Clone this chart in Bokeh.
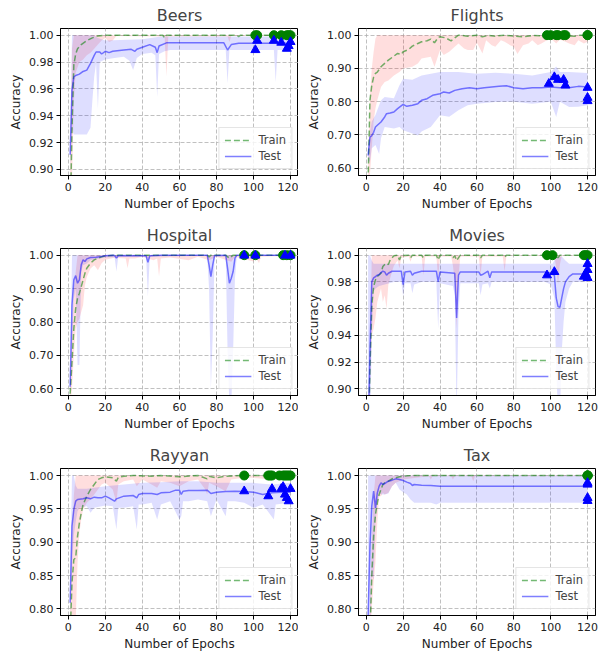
from bokeh.plotting import figure
from bokeh.layouts import gridplot
from bokeh.models import Range1d, FixedTicker, PrintfTickFormatter, Legend, LegendItem
from bokeh.embed import file_html
from bokeh.resources import INLINE

FONT = "DejaVu Sans"
X_TICKS = [0, 20, 40, 60, 80, 100, 120]
TICKS_FINE = [0.90, 0.92, 0.94, 0.96, 0.98, 1.00]
TICKS_WIDE = [0.60, 0.70, 0.80, 0.90, 1.00]
TICKS_MID = [0.80, 0.85, 0.90, 0.95, 1.00]

# ---------------- Beers ----------------
BEERS_TRAIN = [(1, 0.86), (2, 0.93), (3, 0.978), (4, 0.986), (5, 0.99), (7, 0.993), (10, 0.996), (13, 0.998),
               (16, 0.9995), (20, 1.0), (51, 1.0), (52, 0.998), (53, 1.0), (91, 1.0), (92, 0.999), (93, 1.0), (120, 1.0)]
BEERS_TRAIN_LO = [(1, 0.83), (2, 0.89), (3, 0.95), (4, 0.972), (6, 0.98), (8, 0.982), (10, 0.985), (12, 0.987),
                  (14, 0.99), (16, 0.993), (18, 0.996), (20, 0.998), (22, 0.995), (24, 0.996), (26, 0.9995),
                  (52, 0.999), (53, 0.969), (54, 0.999), (86, 0.999), (87, 0.995), (88, 0.9995), (120, 0.9995)]
BEERS_TRAIN_HI = [(1, 0.90), (2, 0.99), (3, 1.0), (120, 1.0)]
BEERS_TEST = [(1, 0.911), (2, 0.959), (3, 0.969), (4, 0.970), (6, 0.971), (8, 0.973), (10, 0.974), (12, 0.979),
              (14, 0.985), (15, 0.9875), (17, 0.9875), (18, 0.986), (20, 0.988), (22, 0.987), (24, 0.988),
              (30, 0.989), (34, 0.9895), (36, 0.988), (37, 0.9895), (40, 0.991), (44, 0.993), (47, 0.991),
              (48, 0.987), (49, 0.992), (53, 0.9943), (84, 0.9943), (86, 0.989), (88, 0.993), (92, 0.994),
              (120, 0.994)]
BEERS_TEST_LO = [(1, 0.90), (2, 0.93), (3, 0.926), (10, 0.926), (12, 0.931), (13, 0.951), (14, 0.969), (15, 0.979),
                 (16, 0.945), (17, 0.98), (20, 0.982), (25, 0.983), (30, 0.984), (33, 0.981), (35, 0.974),
                 (37, 0.983), (40, 0.986), (45, 0.987), (47, 0.985), (48, 0.954), (49, 0.986), (52, 0.988),
                 (55, 0.989), (85, 0.989), (86, 0.964), (87, 0.989), (111, 0.989), (112, 0.965), (113, 0.989),
                 (120, 0.989)]
BEERS_TEST_HI = [(1, 0.92), (2, 1.0), (14, 1.0), (16, 0.998), (20, 0.996), (40, 0.997), (50, 0.999), (120, 0.999)]
BEERS_TRAIN_END = [101, 102, 111, 115, 118, 119, 120]
BEERS_TEST_END = [(101, 0.989), (102, 0.996), (111, 0.996), (115, 0.9945), (118, 0.990), (119, 0.992), (120, 0.995)]

# ---------------- Flights ----------------
FLIGHTS_TRAIN = [(1, 0.56), (2, 0.804), (3, 0.849), (4, 0.874), (5, 0.885), (6, 0.889), (8, 0.905), (10, 0.915),
                 (12, 0.925), (15, 0.937), (17, 0.945), (19, 0.942), (20, 0.95), (23, 0.957), (25, 0.967),
                 (28, 0.975), (30, 0.98), (33, 0.983), (35, 0.988), (37, 0.977), (39, 0.993), (40, 0.995),
                 (43, 0.992), (46, 0.983), (48, 0.992), (50, 1.0), (55, 0.997), (60, 1.0), (63, 0.995), (66, 0.999),
                 (70, 0.997), (75, 1.0), (80, 0.997), (85, 0.995), (90, 0.999), (95, 0.998), (100, 1.0),
                 (113, 0.997), (116, 1.0), (120, 1.0)]
FLIGHTS_TRAIN_LO = [(1, 0.52), (2, 0.58), (3, 0.66), (4, 0.74), (5, 0.78), (6, 0.804), (8, 0.844), (10, 0.859),
                    (12, 0.864), (15, 0.879), (18, 0.889), (20, 0.90), (25, 0.905), (28, 0.915), (30, 0.93),
                    (35, 0.935), (37, 0.905), (40, 0.955), (42, 0.94), (45, 0.95), (48, 0.965), (50, 0.975),
                    (53, 0.96), (55, 0.955), (58, 0.955), (60, 0.977), (63, 0.945), (65, 0.985), (68, 0.97),
                    (70, 0.965), (73, 0.985), (75, 0.98), (78, 0.97), (80, 0.965), (82, 0.943), (85, 0.97),
                    (88, 0.975), (90, 0.985), (93, 0.97), (95, 0.975), (98, 0.985), (100, 0.99), (103, 0.975),
                    (105, 0.987), (108, 0.98), (110, 0.975), (113, 0.97), (115, 0.985), (118, 0.975), (120, 0.98)]
FLIGHTS_TRAIN_HI = [(1, 0.60), (2, 0.82), (3, 0.90), (4, 0.95), (5, 0.99), (6, 1.0), (120, 1.0)]
FLIGHTS_TEST = [(1, 0.638), (2, 0.693), (3, 0.698), (4, 0.708), (5, 0.724), (6, 0.729), (8, 0.739), (10, 0.754),
                (11, 0.764), (13, 0.766), (15, 0.769), (17, 0.779), (20, 0.792), (22, 0.786), (25, 0.789),
                (28, 0.794), (30, 0.804), (33, 0.809), (36, 0.819), (40, 0.824), (42, 0.829), (45, 0.826),
                (48, 0.834), (52, 0.839), (56, 0.842), (60, 0.839), (64, 0.842), (68, 0.844), (72, 0.846),
                (76, 0.848), (80, 0.842), (85, 0.839), (90, 0.842), (95, 0.842), (100, 0.844), (105, 0.842),
                (110, 0.842), (115, 0.846), (120, 0.844)]
FLIGHTS_TEST_LO = [(1, 0.62), (2, 0.62), (3, 0.66), (5, 0.67), (7, 0.643), (8, 0.69), (10, 0.724), (15, 0.719),
                   (18, 0.724), (20, 0.714), (25, 0.704), (28, 0.698), (30, 0.71), (35, 0.724), (40, 0.759),
                   (45, 0.755), (50, 0.774), (55, 0.789), (60, 0.794), (70, 0.799), (80, 0.80), (90, 0.794),
                   (100, 0.80), (103, 0.754), (105, 0.80), (110, 0.784), (115, 0.785), (120, 0.789)]
FLIGHTS_TEST_HI = [(1, 0.66), (2, 0.71), (3, 0.74), (5, 0.76), (8, 0.804), (10, 0.814), (15, 0.81), (18, 0.849),
                   (20, 0.869), (25, 0.866), (30, 0.879), (40, 0.889), (50, 0.889), (60, 0.884), (70, 0.887),
                   (80, 0.884), (90, 0.879), (100, 0.889), (103, 0.906), (105, 0.889), (110, 0.889), (120, 0.886)]
FLIGHTS_TRAIN_END = [98, 100, 103, 104, 107, 108, 120, 120]
FLIGHTS_TEST_END = [(99, 0.854), (102, 0.874), (104, 0.866), (107, 0.866), (108, 0.849), (120, 0.842),
                    (120, 0.812), (120, 0.802)]

# ---------------- Hospital ----------------
HOSPITAL_TRAIN = [(1, 0.585), (2, 0.681), (3, 0.781), (4, 0.841), (5, 0.871), (6, 0.886), (7, 0.906), (8, 0.926),
                  (9, 0.946), (10, 0.961), (12, 0.976), (14, 0.986), (16, 0.991), (18, 0.995), (20, 0.998),
                  (25, 1.0), (75, 1.0), (76, 0.995), (77, 1.0), (85, 1.0), (87, 0.991), (89, 1.0), (120, 1.0)]
HOSPITAL_TRAIN_LO = [(1, 0.55), (2, 0.60), (3, 0.70), (4, 0.78), (5, 0.80), (6, 0.81), (7, 0.83), (8, 0.85),
                     (9, 0.91), (10, 0.935), (12, 0.96), (14, 0.97), (16, 0.955), (18, 0.976), (20, 0.986),
                     (25, 0.992), (31, 0.99), (32, 0.961), (33, 0.99), (36, 0.99), (40, 0.995), (46, 0.985),
                     (48, 0.99), (49, 0.936), (50, 0.99), (55, 0.993), (65, 0.985), (70, 0.995), (76, 0.985),
                     (80, 0.995), (88, 0.98), (90, 0.995), (100, 0.981), (101, 0.995), (103, 0.976), (104, 0.995),
                     (110, 0.997), (120, 0.997)]
HOSPITAL_TRAIN_HI = [(1, 0.62), (2, 0.78), (3, 0.90), (4, 0.95), (5, 1.0), (120, 1.0)]
HOSPITAL_TEST = [(1, 0.606), (2, 0.851), (3, 0.926), (4, 0.939), (5, 0.916), (6, 0.926), (7, 0.971), (8, 0.986),
                 (9, 0.981), (10, 0.989), (12, 0.993), (15, 0.994), (18, 0.996), (20, 0.998), (24, 1.0),
                 (25, 0.999), (26, 0.991), (27, 0.999), (42, 0.998), (43, 0.979), (44, 0.998), (50, 1.0),
                 (75, 1.0), (76, 0.971), (77, 0.936), (78, 0.971), (79, 0.999), (85, 1.0), (86, 0.961),
                 (87, 0.916), (88, 0.931), (89, 0.951), (90, 0.991), (91, 1.0), (120, 1.0)]
HOSPITAL_TEST_LO = [(1, 0.58), (2, 0.72), (3, 0.87), (4, 0.90), (5, 0.671), (6, 0.671), (7, 0.951), (8, 0.97),
                    (10, 0.975), (12, 0.985), (20, 0.993), (25, 0.994), (26, 0.951), (27, 0.995), (42, 0.995),
                    (43, 0.876), (44, 0.995), (75, 0.998), (76, 0.90), (77, 0.60), (78, 0.76), (79, 0.995),
                    (85, 0.998), (86, 0.711), (87, 0.55), (88, 0.55), (89, 0.711), (90, 0.931), (91, 0.997),
                    (120, 0.998)]
HOSPITAL_TEST_HI = [(1, 0.63), (2, 1.0), (120, 1.0)]
HOSPITAL_TRAIN_END = [95, 101, 116, 118, 120]
HOSPITAL_TEST_END = [(95, 0.999), (101, 0.999), (117, 0.999), (120, 0.999)]

# ---------------- Movies ----------------
MOVIES_TRAIN = [(1, 0.85), (2, 0.915), (3, 0.963), (4, 0.9765), (5, 0.9815), (6, 0.984), (8, 0.9865), (9, 0.9915),
                (10, 0.993), (11, 0.994), (12, 0.993), (13, 0.9965), (15, 0.9995), (17, 1.0), (18, 0.9965),
                (19, 0.9997), (23, 1.0), (24, 0.998), (25, 1.0), (30, 1.0), (31, 0.998), (32, 1.0), (38, 1.0),
                (39, 0.9965), (40, 1.0), (46, 1.0), (47, 0.998), (48, 0.9995), (49, 0.996), (50, 0.998),
                (51, 1.0), (61, 1.0), (62, 0.998), (63, 1.0), (74, 1.0), (75, 0.9985), (76, 1.0), (103, 1.0),
                (104, 0.998), (105, 1.0), (120, 1.0)]
MOVIES_TRAIN_LO = [(1, 0.83), (2, 0.90), (3, 0.94), (4, 0.945), (5, 0.953), (6, 0.965), (7, 0.97), (8, 0.975),
                   (9, 0.965), (10, 0.97), (11, 0.96), (12, 0.978), (13, 0.983), (14, 0.988), (15, 0.992),
                   (17, 0.996), (18, 0.99), (19, 0.998), (23, 0.999), (24, 0.995), (25, 0.999), (30, 0.999),
                   (31, 0.985), (32, 0.999), (38, 0.999), (39, 0.983), (40, 0.999), (46, 0.999), (47, 0.992),
                   (48, 0.98), (49, 0.945), (50, 0.983), (51, 0.999), (61, 0.999), (62, 0.985), (63, 0.999),
                   (74, 0.999), (75, 0.988), (76, 0.9995), (102, 0.9995), (103, 0.99), (104, 0.978), (105, 0.993),
                   (106, 0.9995), (120, 0.9995)]
MOVIES_TRAIN_HI = [(1, 0.88), (2, 0.93), (3, 1.0), (120, 1.0)]
MOVIES_TEST = [(1, 0.86), (2, 0.928), (3, 0.980), (4, 0.983), (5, 0.984), (6, 0.985), (7, 0.9855), (8, 0.987),
               (9, 0.988), (10, 0.9875), (11, 0.985), (12, 0.9865), (14, 0.988), (19, 0.988), (20, 0.978),
               (21, 0.9875), (24, 0.988), (25, 0.985), (26, 0.9865), (30, 0.988), (38, 0.988), (39, 0.980),
               (40, 0.9875), (48, 0.9865), (49, 0.953), (50, 0.985), (51, 0.9875), (61, 0.9875), (62, 0.985),
               (63, 0.9855), (66, 0.988), (67, 0.983), (68, 0.9875), (97, 0.9875), (100, 0.9865), (102, 0.985),
               (103, 0.968), (104, 0.9615), (105, 0.961), (106, 0.968), (107, 0.975), (108, 0.98), (110, 0.984),
               (112, 0.986), (120, 0.986)]
MOVIES_TEST_LO = [(1, 0.85), (2, 0.86), (3, 0.94), (4, 0.973), (5, 0.975), (7, 0.977), (10, 0.978), (15, 0.98),
                  (19, 0.98), (20, 0.969), (21, 0.979), (24, 0.979), (25, 0.9715), (26, 0.978), (30, 0.98),
                  (38, 0.98), (39, 0.945), (40, 0.979), (47, 0.977), (48, 0.97), (49, 0.88), (50, 0.955),
                  (51, 0.979), (61, 0.979), (62, 0.97), (63, 0.978), (66, 0.979), (67, 0.975), (68, 0.98),
                  (97, 0.98), (100, 0.978), (102, 0.968), (103, 0.915), (104, 0.88), (105, 0.88), (106, 0.928),
                  (107, 0.95), (108, 0.965), (110, 0.975), (112, 0.98), (120, 0.98)]
MOVIES_TEST_HI = [(1, 1.0), (2, 1.0), (3, 0.996), (4, 0.9935), (101, 0.9935), (102, 0.996), (103, 0.999),
                  (106, 0.999), (108, 0.996), (110, 0.9935), (120, 0.9935)]
MOVIES_TRAIN_END = [98, 101, 118, 119, 120]
MOVIES_TEST_END = [(98, 0.985), (102, 0.9875), (118, 0.984), (119, 0.986), (120, 0.9935), (120, 0.989),
                   (120, 0.983)]

# ---------------- Rayyan ----------------
RAYYAN_TRAIN = [(1, 0.76), (2, 0.839), (3, 0.874), (4, 0.8765), (5, 0.909), (6, 0.929), (7, 0.944), (8, 0.9565),
                (10, 0.969), (12, 0.979), (14, 0.9865), (16, 0.994), (18, 0.9965), (20, 0.998), (24, 0.9965),
                (26, 0.9915), (27, 0.997), (30, 0.999), (35, 1.0), (45, 0.999), (50, 1.0), (60, 0.998),
                (70, 1.0), (75, 0.995), (76, 0.999), (80, 0.9965), (85, 0.999), (95, 1.0), (120, 1.0)]
RAYYAN_TRAIN_LO = [(1, 0.72), (2, 0.78), (3, 0.78), (4, 0.78), (5, 0.869), (6, 0.914), (7, 0.934), (8, 0.949),
                   (10, 0.959), (12, 0.964), (14, 0.9715), (16, 0.979), (18, 0.9865), (20, 0.989), (24, 0.979),
                   (26, 0.959), (27, 0.9865), (30, 0.9915), (35, 0.994), (37, 0.984), (40, 0.994), (45, 0.9865),
                   (48, 0.9815), (50, 0.9915), (55, 0.989), (60, 0.984), (65, 0.9915), (70, 0.994), (74, 0.979),
                   (75, 0.9715), (76, 0.989), (80, 0.984), (85, 0.9765), (88, 0.994), (95, 0.9965), (100, 0.9965),
                   (110, 0.994), (120, 0.9965)]
RAYYAN_TRAIN_HI = [(1, 0.80), (2, 0.90), (3, 0.97), (4, 1.0), (120, 1.0)]
RAYYAN_TEST = [(1, 0.809), (2, 0.924), (3, 0.949), (4, 0.9615), (5, 0.964), (8, 0.965), (10, 0.9665), (12, 0.965),
               (14, 0.9675), (16, 0.9665), (18, 0.9665), (20, 0.969), (22, 0.9665), (25, 0.9615), (26, 0.965),
               (30, 0.969), (35, 0.970), (37, 0.9665), (38, 0.9715), (40, 0.973), (45, 0.973), (48, 0.9715),
               (50, 0.974), (55, 0.975), (58, 0.978), (60, 0.978), (61, 0.9715), (62, 0.9765), (65, 0.9775),
               (70, 0.9775), (75, 0.978), (77, 0.973), (80, 0.975), (85, 0.976), (90, 0.9765), (95, 0.976),
               (100, 0.975), (105, 0.9715), (110, 0.974), (115, 0.975), (120, 0.975)]
RAYYAN_TEST_LO = [(1, 0.79), (2, 0.86), (3, 0.91), (4, 0.93), (5, 0.9465), (6, 0.9515), (10, 0.954), (12, 0.944),
                  (14, 0.9515), (18, 0.954), (20, 0.955), (24, 0.954), (26, 0.919), (27, 0.9515), (30, 0.9515),
                  (35, 0.954), (37, 0.919), (38, 0.9565), (40, 0.9565), (45, 0.959), (48, 0.934), (50, 0.9565),
                  (55, 0.9615), (60, 0.934), (61, 0.939), (62, 0.9615), (65, 0.9615), (70, 0.964), (75, 0.9615),
                  (77, 0.939), (80, 0.964), (85, 0.939), (86, 0.9615), (90, 0.9615), (95, 0.959), (100, 0.9515),
                  (105, 0.9565), (111, 0.934), (112, 0.9565), (120, 0.959)]
RAYYAN_TEST_HI = [(1, 0.85), (2, 1.0), (3, 1.0), (4, 0.985), (5, 0.98), (10, 0.98), (20, 0.984), (30, 0.9865),
                  (40, 0.989), (50, 0.990), (60, 0.9915), (70, 0.9915), (80, 0.989), (90, 0.989), (100, 0.989),
                  (110, 0.9865), (120, 0.989)]
RAYYAN_TRAIN_END = [95, 108, 109, 110, 114, 116, 117, 118, 119, 120]
RAYYAN_TEST_END = [(95, 0.9765), (108, 0.969), (110, 0.98), (115, 0.98), (116, 0.983), (117, 0.9715),
                   (118, 0.9665), (119, 0.9615), (120, 0.98)]

# ---------------- Tax ----------------
TAX_TRAIN = [(1, 0.70), (2, 0.76), (3, 0.849), (4, 0.909), (5, 0.9415), (6, 0.959), (7, 0.9715), (8, 0.979),
             (9, 0.9865), (10, 0.989), (12, 0.9915), (14, 0.995), (16, 0.9965), (18, 0.998), (20, 0.999),
             (25, 1.0), (120, 1.0)]
TAX_TRAIN_LO = [(1, 0.68), (2, 0.74), (3, 0.80), (4, 0.839), (5, 0.869), (6, 0.929), (7, 0.969), (8, 0.969),
                (9, 0.974), (10, 0.9715), (12, 0.974), (14, 0.984), (16, 0.989), (18, 0.9915), (20, 0.994),
                (25, 0.996), (34, 0.999), (35, 0.994), (36, 0.999), (46, 0.999), (47, 0.994), (48, 0.999),
                (57, 0.999), (58, 0.9915), (59, 0.999), (120, 0.999)]
TAX_TRAIN_HI = [(1, 0.72), (2, 0.80), (3, 0.90), (4, 0.97), (5, 1.0), (120, 1.0)]
TAX_TEST = [(1, 0.79), (2, 0.894), (3, 0.954), (4, 0.9765), (5, 0.9515), (6, 0.974), (7, 0.984), (8, 0.989),
            (9, 0.9865), (10, 0.988), (12, 0.9915), (14, 0.993), (16, 0.995), (18, 0.994), (20, 0.9925),
            (22, 0.99), (24, 0.988), (25, 0.985), (26, 0.9865), (30, 0.9855), (35, 0.985), (40, 0.984),
            (120, 0.984)]
TAX_TEST_LO = [(1, 0.70), (2, 0.75), (3, 0.85), (4, 0.844), (5, 0.929), (6, 0.959), (7, 0.974), (8, 0.9715),
               (10, 0.9715), (12, 0.973), (14, 0.984), (16, 0.989), (18, 0.979), (20, 0.975), (22, 0.9715),
               (24, 0.964), (26, 0.959), (30, 0.959), (35, 0.959), (38, 0.9565), (40, 0.959), (120, 0.959)]
TAX_TEST_HI = [(1, 1.0), (120, 1.0)]
TAX_TRAIN_END = [120, 120, 120, 120]
TAX_TEST_END = [(120, 0.989), (120, 0.9865), (120, 0.9665), (120, 0.962)]


def xs(pts):
    return [q[0] for q in pts]


def ys(pts):
    return [q[1] for q in pts]


def band(p, hi, lo, color, alpha):
    bx = xs(hi) + xs(lo)[::-1]
    by = ys(hi) + ys(lo)[::-1]
    p.patch(bx, by, fill_color=color, fill_alpha=alpha, line_alpha=0)


def panel(title, ylim, yticks, train, train_lo, train_hi, test, test_lo, test_hi, train_end, test_end, col, row):
    fw = 238 if col == 0 else 237
    br = 0 if col == 0 else 3
    bb = 44 if row == 2 else 45
    p = figure(frame_width=fw, frame_height=147, x_range=Range1d(-4.2, 124.3), y_range=Range1d(*ylim),
               output_backend="svg", toolbar_location=None,
               min_border_left=60, min_border_right=br, min_border_top=28, min_border_bottom=bb)
    p.title.text = title
    p.title.align = "center"
    p.title.text_font = FONT
    p.title.text_font_size = "16px"
    p.title.text_font_style = "normal"
    p.title.standoff = 7

    band(p, train_hi, train_lo, "red", 0.13)
    band(p, test_hi, test_lo, "blue", 0.13)
    r_train = p.line(xs(train), ys(train), line_color="green", line_alpha=0.55, line_width=1.5, line_dash="6 3")
    r_test = p.line(xs(test), ys(test), line_color="blue", line_alpha=0.5, line_width=1.5)
    p.scatter(train_end, [1.0] * len(train_end), marker="circle", size=9, fill_color="green", line_color="green")
    p.scatter(xs(test_end), ys(test_end), marker="triangle", size=9, fill_color="blue", line_color="blue")

    p.xaxis.ticker = FixedTicker(ticks=X_TICKS)
    p.yaxis.ticker = FixedTicker(ticks=yticks)
    p.yaxis.formatter = PrintfTickFormatter(format="%.2f")
    p.xaxis.axis_label = "Number of Epochs"
    p.yaxis.axis_label = "Accuracy"
    for ax in (p.xaxis, p.yaxis):
        ax.axis_label_text_font = FONT
        ax.axis_label_text_font_size = "12px"
        ax.axis_label_text_font_style = "normal"
        ax.axis_label_standoff = 3
        ax.major_label_text_font = FONT
        ax.major_label_text_font_size = "11px"
        ax.major_label_standoff = 3
        ax.major_tick_out = 4
        ax.major_tick_in = 0
        ax.minor_tick_out = 0
        ax.minor_tick_in = 0
        ax.axis_line_color = "black"
        ax.major_label_text_color = "#222222"
        ax.axis_label_text_color = "#222222"
    p.grid.grid_line_color = "#b0b0b0"
    p.grid.grid_line_dash = "4 2"
    p.grid.grid_line_width = 0.8
    p.outline_line_color = "black"
    p.outline_line_width = 1
    p.outline_line_alpha = 1

    legend = Legend(items=[LegendItem(label="Train", renderers=[r_train]),
                           LegendItem(label="Test", renderers=[r_test])],
                    location="bottom_right")
    legend.label_text_font = FONT
    legend.label_text_font_size = "11.5px"
    legend.border_line_color = "#cccccc"
    legend.border_line_width = 1
    legend.background_fill_alpha = 0.8
    legend.glyph_width = 27
    legend.glyph_height = 14
    legend.label_height = 14
    legend.label_standoff = 7
    legend.padding = 5
    legend.spacing = 2
    legend.margin = 6
    p.add_layout(legend)
    return p


p1 = panel("Beers", (0.8955, 1.005), TICKS_FINE, BEERS_TRAIN, BEERS_TRAIN_LO, BEERS_TRAIN_HI,
           BEERS_TEST, BEERS_TEST_LO, BEERS_TEST_HI, BEERS_TRAIN_END, BEERS_TEST_END, 0, 0)
p2 = panel("Flights", (0.578, 1.02), TICKS_WIDE, FLIGHTS_TRAIN, FLIGHTS_TRAIN_LO, FLIGHTS_TRAIN_HI,
           FLIGHTS_TEST, FLIGHTS_TEST_LO, FLIGHTS_TEST_HI, FLIGHTS_TRAIN_END, FLIGHTS_TEST_END, 1, 0)
p3 = panel("Hospital", (0.58, 1.02), TICKS_WIDE, HOSPITAL_TRAIN, HOSPITAL_TRAIN_LO, HOSPITAL_TRAIN_HI,
           HOSPITAL_TEST, HOSPITAL_TEST_LO, HOSPITAL_TEST_HI, HOSPITAL_TRAIN_END, HOSPITAL_TEST_END, 0, 1)
p4 = panel("Movies", (0.895, 1.005), TICKS_FINE, MOVIES_TRAIN, MOVIES_TRAIN_LO, MOVIES_TRAIN_HI,
           MOVIES_TEST, MOVIES_TEST_LO, MOVIES_TEST_HI, MOVIES_TRAIN_END, MOVIES_TEST_END, 1, 1)
p5 = panel("Rayyan", (0.79, 1.0105), TICKS_MID, RAYYAN_TRAIN, RAYYAN_TRAIN_LO, RAYYAN_TRAIN_HI,
           RAYYAN_TEST, RAYYAN_TEST_LO, RAYYAN_TEST_HI, RAYYAN_TRAIN_END, RAYYAN_TEST_END, 0, 2)
p6 = panel("Tax", (0.79, 1.0105), TICKS_MID, TAX_TRAIN, TAX_TRAIN_LO, TAX_TRAIN_HI,
           TAX_TEST, TAX_TEST_LO, TAX_TEST_HI, TAX_TRAIN_END, TAX_TEST_END, 1, 2)

grid = gridplot([[p1, p2], [p3, p4], [p5, p6]], toolbar_location=None)

with open("out.html", "w") as f:
    f.write(file_html(grid, INLINE))
